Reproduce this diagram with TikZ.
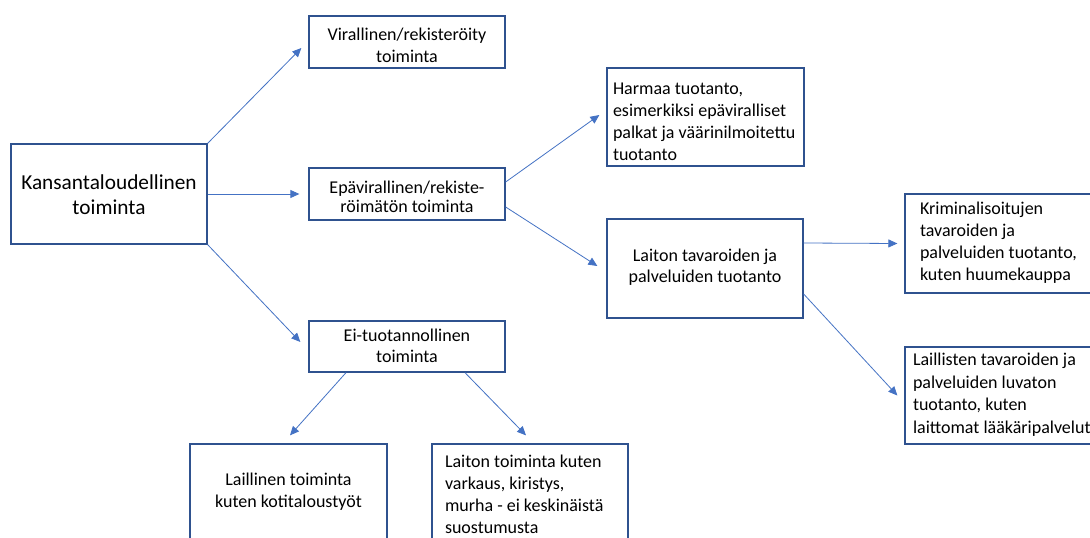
\documentclass[tikz,border=0pt]{standalone}
\usepackage{fontspec}
\setmainfont{Carlito}
\usetikzlibrary{arrows.meta,calc}
\definecolor{boxc}{HTML}{2F528F}
\definecolor{linec}{HTML}{4472C4}
% centred text: width, height, first baseline, baselineskip, text
\newcommand{\ctext}[5]{\parbox[c][#2][t]{#1}{\centering\fontsize{18bp}{#4}\selectfont\rule{0pt}{#3}#5\par}}
% left text: width, height, first baseline, baselineskip, left pad, text
\newcommand{\ltext}[6]{\parbox[c][#2][t]{#1}{\raggedright\leftskip=#5\fontsize{18bp}{#4}\selectfont\rule{0pt}{#3}#6\par}}
\tikzset{
  box/.style={draw=boxc, line width=1.3bp, inner sep=0pt, fill=white},
  conn/.style={draw=linec, line width=0.8bp, -{Triangle[length=9bp,width=8bp]}}
}
\begin{document}
\begin{tikzpicture}[x=1bp,y=-1bp]
\path[use as bounding box] (0,0) rectangle (1090,538);
\fill[white] (0,0) rectangle (1090,538);
\clip (0,0) rectangle (1090,538);

\node[box] (K) at (109,194) {\parbox[c][100bp][t]{196bp}{\centering\fontsize{21.3bp}{25bp}\selectfont\rule{0pt}{46bp}Kansantaloudellinen\\toiminta\par}};
\node[box] (V) at (407,42) {\ctext{196bp}{52bp}{25bp}{22bp}{Virallinen/rekisteröity\\toiminta}};
\node[box] (E) at (407,194) {\ctext{196bp}{52bp}{26bp}{19bp}{Epävirallinen/rekiste-\\röimätön toiminta}};
\node[box] (Ei) at (407,346.5) {\ctext{196bp}{51bp}{21bp}{21bp}{Ei-tuotannollinen\\toiminta}};
\node[box] (H) at (705.5,117) {\ltext{197bp}{98bp}{27bp}{21.7bp}{6bp}{Harmaa tuotanto,\\esimerkiksi epäviralliset\\palkat ja väärinilmoitettu\\tuotanto}};
\node[box] (L) at (705,268.5) {\ctext{196bp}{99bp}{43bp}{21bp}{Laiton tavaroiden ja\\palveluiden tuotanto}};
\node[box] (Kr) at (1003,243.5) {\ltext{196bp}{99bp}{21bp}{22bp}{15bp}{Kriminalisoitujen\\tavaroiden ja\\palveluiden tuotanto,\\kuten huumekauppa}};
\node[box] (La) at (1003,395.5) {\ltext{196bp}{97bp}{19bp}{22.5bp}{8bp}{Laillisten tavaroiden ja\\palveluiden luvaton\\tuotanto, kuten\\laittomat lääkäripalvelut}};
\node[box] (LT) at (288.5,493.5) {\ctext{197bp}{99bp}{41bp}{22bp}{Laillinen toiminta\\kuten kotitaloustyöt}};
\node[box] (LO) at (530,493.5) {\ltext{196bp}{99bp}{23bp}{22bp}{13bp}{Laiton toiminta kuten\\varkaus, kiristys,\\murha - ei keskinäistä\\suostumusta}};

\draw[conn] (K.north east) -- ($(V.west)+(-7,6)$);
\draw[conn] (K.east) -- ($(E.west)+(-9,0)$);
\draw[conn] (K.south east) -- ($(Ei.west)+(-8,-4.5)$);
\draw[conn] ($(E.east)+(0,-12)$) -- ($(H.west)+(-7,-2)$);
\draw[conn] ($(E.east)+(0,13)$) -- ($(L.west)+(-9,-2.5)$);
\draw[conn] ($(L.east)+(0,-25.5)$) -- ($(Kr.west)+(-7,0)$);
\draw[conn] ($(L.east)+(0,25.5)$) -- ($(La.west)+(-7,0)$);
\draw[conn] ($(Ei.south)+(-61,0)$) -- ($(LT.north)+(1.5,-8)$);
\draw[conn] ($(Ei.south)+(58,0)$) -- ($(LO.north)+(-4,-8)$);
\end{tikzpicture}
\end{document}
